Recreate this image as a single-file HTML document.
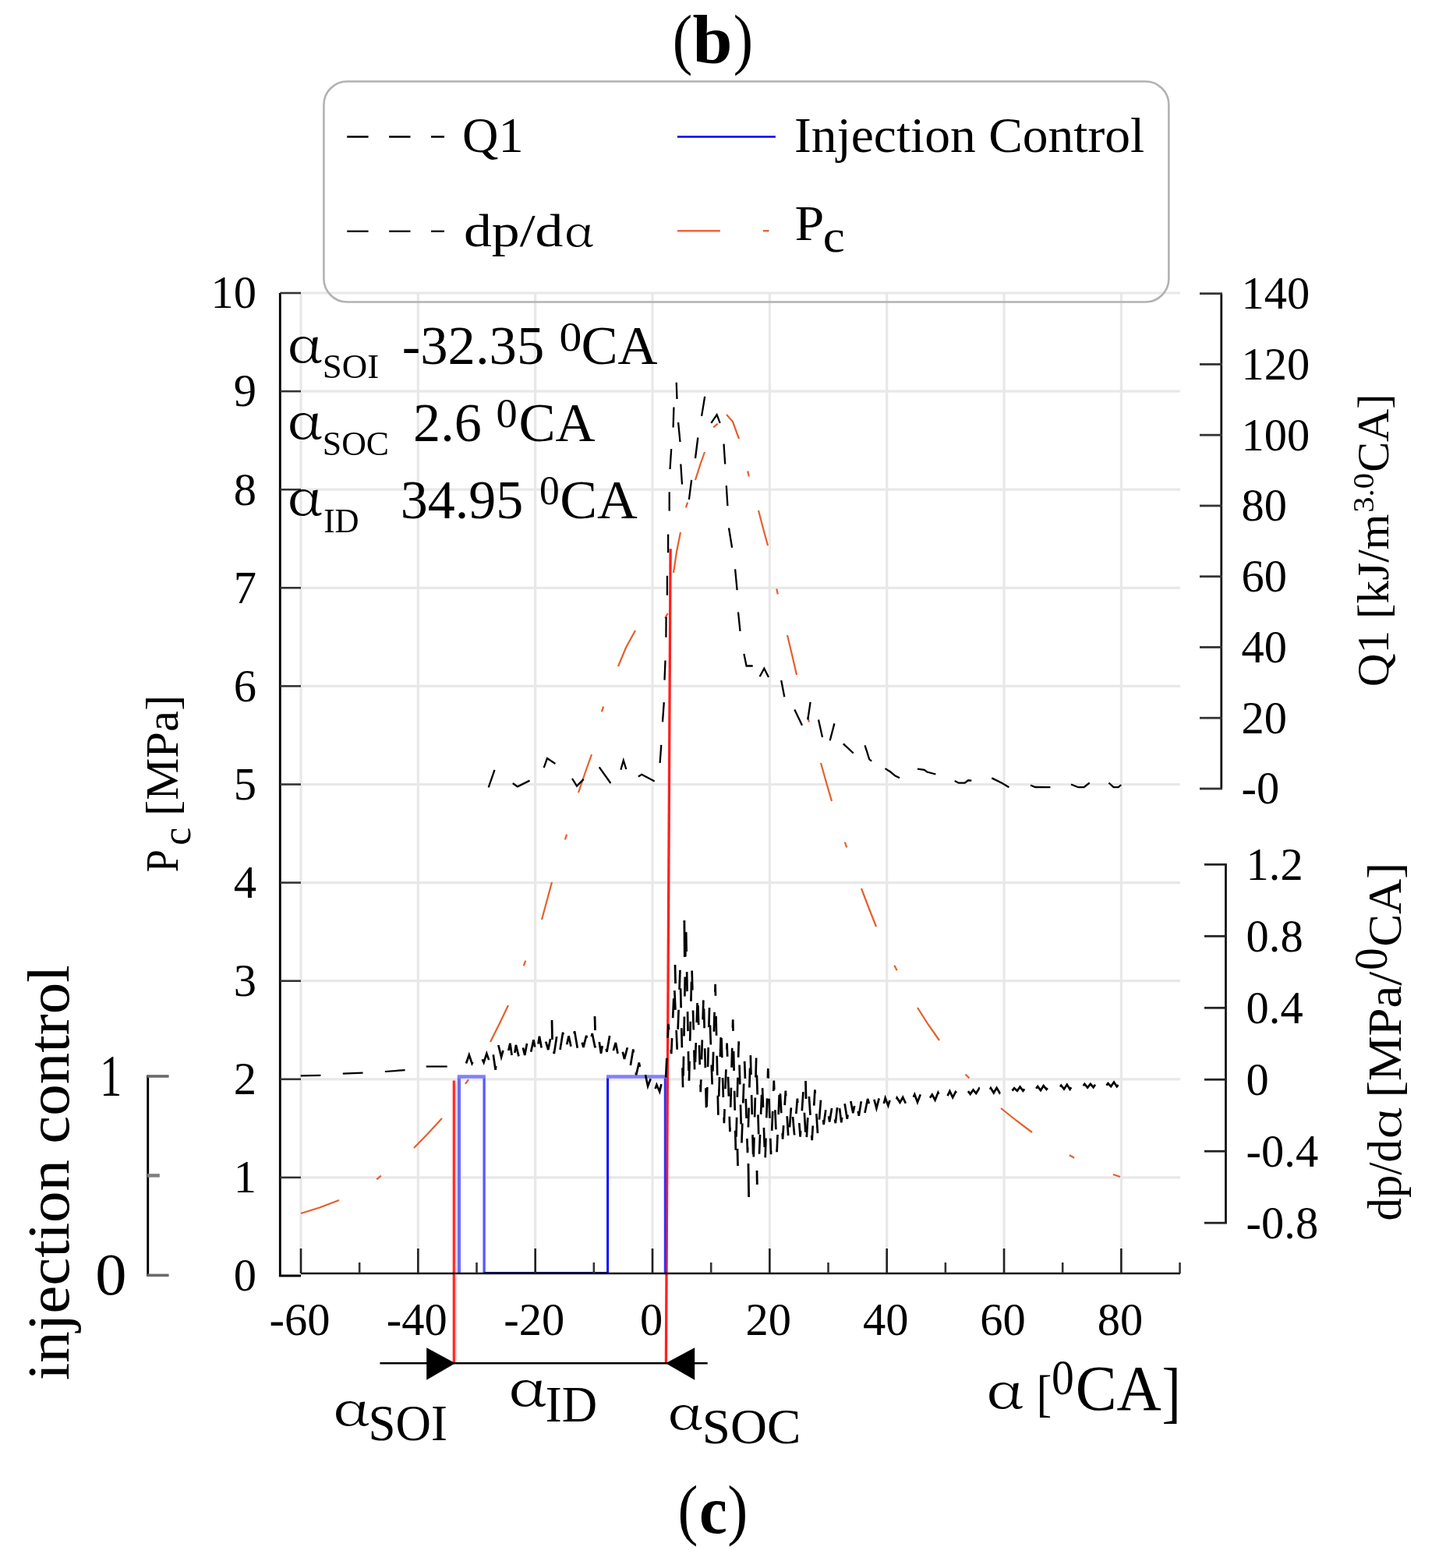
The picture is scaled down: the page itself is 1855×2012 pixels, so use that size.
<!DOCTYPE html>
<html><head><meta charset="utf-8"><title>Injection control chart</title>
<style>
html,body{margin:0;padding:0;background:#fff;}
body{width:1855px;height:2012px;overflow:hidden;}
svg{display:block;}
text{font-family:'Liberation Serif', 'DejaVu Serif', serif;}
</style></head><body>
<svg width="1855" height="2012" viewBox="0 0 1855 2012" font-family="'Liberation Serif', 'DejaVu Serif', serif">
<rect x="0" y="0" width="1855" height="2012" fill="#fff"/>
<line x1="386.00" y1="376.00" x2="386.00" y2="1634.00" stroke="#e8e8e8" stroke-width="3.20"/>
<line x1="536.34" y1="376.00" x2="536.34" y2="1634.00" stroke="#e8e8e8" stroke-width="3.20"/>
<line x1="686.68" y1="376.00" x2="686.68" y2="1634.00" stroke="#e8e8e8" stroke-width="3.20"/>
<line x1="837.02" y1="376.00" x2="837.02" y2="1634.00" stroke="#e8e8e8" stroke-width="3.20"/>
<line x1="987.36" y1="376.00" x2="987.36" y2="1634.00" stroke="#e8e8e8" stroke-width="3.20"/>
<line x1="1137.70" y1="376.00" x2="1137.70" y2="1634.00" stroke="#e8e8e8" stroke-width="3.20"/>
<line x1="1288.04" y1="376.00" x2="1288.04" y2="1634.00" stroke="#e8e8e8" stroke-width="3.20"/>
<line x1="1438.38" y1="376.00" x2="1438.38" y2="1634.00" stroke="#e8e8e8" stroke-width="3.20"/>
<line x1="386.00" y1="1510.90" x2="1514.00" y2="1510.90" stroke="#e8e8e8" stroke-width="3.20"/>
<line x1="386.00" y1="1384.80" x2="1514.00" y2="1384.80" stroke="#e8e8e8" stroke-width="3.20"/>
<line x1="386.00" y1="1258.70" x2="1514.00" y2="1258.70" stroke="#e8e8e8" stroke-width="3.20"/>
<line x1="386.00" y1="1132.60" x2="1514.00" y2="1132.60" stroke="#e8e8e8" stroke-width="3.20"/>
<line x1="386.00" y1="1006.50" x2="1514.00" y2="1006.50" stroke="#e8e8e8" stroke-width="3.20"/>
<line x1="386.00" y1="880.40" x2="1514.00" y2="880.40" stroke="#e8e8e8" stroke-width="3.20"/>
<line x1="386.00" y1="754.30" x2="1514.00" y2="754.30" stroke="#e8e8e8" stroke-width="3.20"/>
<line x1="386.00" y1="628.20" x2="1514.00" y2="628.20" stroke="#e8e8e8" stroke-width="3.20"/>
<line x1="386.00" y1="502.10" x2="1514.00" y2="502.10" stroke="#e8e8e8" stroke-width="3.20"/>
<line x1="386.00" y1="376.00" x2="1514.00" y2="376.00" stroke="#e8e8e8" stroke-width="3.20"/>
<line x1="582.3" y1="1386.5" x2="582.3" y2="1749.3" stroke="#ff2a2a" stroke-width="3.2"/>
<line x1="584.9" y1="1386.5" x2="584.9" y2="1749.3" stroke="#ffc4c4" stroke-width="1.6"/>
<line x1="860.1" y1="704.3" x2="854.4" y2="1749.3" stroke="#ff2020" stroke-width="3.3"/>
<line x1="588.9" y1="1381.5" x2="588.9" y2="1634.0" stroke="#6a6aff" stroke-width="4.2"/>
<line x1="621.1" y1="1381.5" x2="621.1" y2="1634.0" stroke="#5a5aff" stroke-width="3.4"/>
<line x1="779.6" y1="1381.5" x2="779.6" y2="1634.0" stroke="#0a0aff" stroke-width="3.0"/>
<line x1="853.3" y1="1381.5" x2="853.3" y2="1634.0" stroke="#3030ff" stroke-width="3.0"/>
<line x1="586.8" y1="1381.5" x2="622.8" y2="1381.5" stroke="#8080ff" stroke-width="4.6"/>
<line x1="778.1" y1="1381.5" x2="854.8" y2="1381.5" stroke="#8080ff" stroke-width="4.6"/>
<line x1="621.1" y1="1633.6" x2="779.6" y2="1633.6" stroke="#101080" stroke-width="3.0"/>
<g fill="none" stroke="#e4602c" stroke-width="2.2" stroke-linecap="butt">
<polyline points="386.0,1557.0 410.0,1549.5 435.0,1540.0"/>
<polyline points="531.0,1473.0 549.0,1454.5 567.0,1435.0"/>
<polyline points="629.0,1337.0 641.0,1313.0 652.0,1290.0"/>
<polyline points="695.0,1180.0 701.5,1156.0 708.0,1132.0"/>
<polyline points="742.0,1017.0 750.5,992.0 759.0,968.0"/>
<polyline points="793.0,855.0 803.0,831.0 815.0,809.0"/>
<polyline points="864.0,735.0 868.0,708.0 873.0,683.0"/>
<polyline points="892.0,616.0 898.0,597.0 904.0,580.0"/>
<polyline points="932.0,532.0 940.0,541.0 948.0,563.0"/>
<polyline points="973.0,655.0 979.0,678.0 985.0,700.0"/>
<polyline points="1010.0,815.0 1016.0,840.0 1022.0,866.0"/>
<polyline points="1053.0,979.0 1060.0,1004.0 1067.0,1028.0"/>
<polyline points="1105.0,1140.0 1114.5,1165.0 1124.0,1189.0"/>
<polyline points="1177.0,1293.0 1191.0,1315.0 1205.0,1335.0"/>
<polyline points="1284.0,1422.0 1304.0,1438.0 1324.0,1453.0"/>
<polyline points="1428.0,1507.0 1437.0,1510.0"/>
<line x1="483.2" y1="1513.3" x2="488.8" y2="1508.7"/>
<line x1="596.9" y1="1390.9" x2="601.1" y2="1385.1"/>
<line x1="671.7" y1="1239.3" x2="674.3" y2="1232.7"/>
<line x1="724.9" y1="1077.4" x2="727.1" y2="1070.6"/>
<line x1="771.9" y1="913.4" x2="774.1" y2="906.6"/>
<line x1="853.2" y1="793.1" x2="856.8" y2="786.9"/>
<line x1="879.9" y1="651.4" x2="882.1" y2="644.6"/>
<line x1="915.2" y1="548.3" x2="920.8" y2="543.7"/>
<line x1="959.1" y1="604.5" x2="960.9" y2="611.5"/>
<line x1="996.2" y1="755.5" x2="997.8" y2="762.5"/>
<line x1="1036.1" y1="919.5" x2="1037.9" y2="926.5"/>
<line x1="1083.8" y1="1080.6" x2="1086.2" y2="1087.4"/>
<line x1="1147.3" y1="1238.8" x2="1150.7" y2="1245.2"/>
<line x1="1238.5" y1="1378.5" x2="1243.5" y2="1383.5"/>
<line x1="1371.9" y1="1482.2" x2="1378.1" y2="1485.8"/>
</g>
<g fill="none" stroke="#000" stroke-width="2.3" stroke-linejoin="miter">
<polyline points="626.7,1010.3 634.5,987.8"/>
<polyline points="657.8,1005.0 663.9,1009.4 679.5,1001.6"/>
<polyline points="697.7,985.2 702.0,973.0 712.4,980.0"/>
<polyline points="734.0,999.0 740.0,1008.6 748.7,999.9"/>
<polyline points="768.7,984.3 783.4,1005.0"/>
<polyline points="796.4,987.8 799.8,975.7 803.3,987.0"/>
<polyline points="818.9,996.5 823.2,993.8 839.7,1002.5"/>
<polyline points="846.6,979.0 848.3,955.8"/>
<polyline points="850.0,926.3 851.8,901.2"/>
<polyline points="852.5,872.6 853.5,847.5"/>
<polyline points="854.4,817.7 854.6,791.7"/>
<polyline points="855.9,763.8 855.9,738.8"/>
<polyline points="857.1,709.2 857.1,685.6"/>
<polyline points="858.7,655.6 858.7,631.3"/>
<polyline points="859.5,602.0 861.2,576.0"/>
<polyline points="863.6,548.5 864.4,522.5"/>
<polyline points="867.7,490.8 868.5,512.0"/>
<polyline points="870.1,542.0 872.5,567.0"/>
<polyline points="873.3,595.5 875.0,621.5"/>
<polyline points="883.9,641.0 887.1,615.8"/>
<polyline points="892.0,588.2 895.3,561.5"/>
<polyline points="900.1,533.9 904.2,508.7"/>
<polyline points="912.3,542.8 919.6,532.2 923.7,542.8"/>
<polyline points="928.5,569.6 930.2,595.5"/>
<polyline points="931.8,623.1 933.4,649.1"/>
<polyline points="935.0,677.5 939.1,702.7"/>
<polyline points="943.1,730.3 945.6,757.1"/>
<polyline points="947.0,785.5 949.5,809.9"/>
<polyline points="954.4,839.0 957.6,854.5 965.7,854.5"/>
<polyline points="974.6,868.3 980.3,857.8 986.0,869.0"/>
<polyline points="1002.2,873.0 1006.3,894.3"/>
<polyline points="1019.3,910.5 1029.0,930.8"/>
<polyline points="1036.3,923.5 1039.6,900.8"/>
<polyline points="1050.0,923.5 1055.0,946.0"/>
<polyline points="1064.7,950.3 1070.4,928.4"/>
<polyline points="1081.8,954.4 1094.8,966.5"/>
<polyline points="1109.5,956.3 1112.6,965.8 1115.2,974.4 1118.2,976.6"/>
<polyline points="1135.5,986.1 1142.4,990.5 1148.5,995.6 1154.1,998.2"/>
<polyline points="1177.0,986.6 1185.7,987.9 1189.2,990.5 1200.4,993.5"/>
<polyline points="1224.7,1002.0 1229.9,1004.7 1237.7,1004.7 1242.0,1001.3 1246.3,1001.7"/>
<polyline points="1272.3,998.4 1285.7,1005.0 1294.4,1010.2"/>
<polyline points="1322.0,1007.5 1328.0,1010.0 1347.4,1010.2"/>
<polyline points="1374.0,1006.5 1383.3,1010.2 1390.5,1010.2 1397.7,1004.5"/>
<polyline points="1422.4,1004.5 1428.6,1010.2 1434.7,1010.2 1438.3,1007.0"/>
</g>
<g fill="none" stroke="#000" stroke-width="2.2">
<polyline points="385.7,1380.4 411.4,1379.9"/>
<polyline points="439.8,1377.7 465.5,1376.6"/>
<polyline points="493.9,1375.0 519.6,1373.1"/>
<polyline points="546.7,1368.5 573.7,1368.5"/>
<polyline points="598.0,1364.5 601.8,1353.7 605.5,1364.6 609.3,1357.0 613.0,1362.4 616.8,1355.0 620.6,1363.3 624.3,1352.0 628.1,1362.5 631.8,1346.4 635.6,1372.9 639.4,1341.2 643.1,1356.3 646.9,1342.6 650.6,1355.2 654.4,1338.7 658.2,1365.3 661.9,1340.9 665.7,1356.3 669.4,1338.1 673.2,1353.9 677.0,1333.6 680.7,1351.7 684.5,1334.3 688.2,1354.3 692.0,1329.7 695.8,1350.9 699.5,1334.3 703.3,1347.0 707.0,1328.3 710.8,1352.0 714.6,1327.4 718.3,1348.6 722.1,1324.8 725.8,1346.6 729.6,1329.3 733.4,1347.4 737.1,1323.2 740.9,1345.5 744.6,1329.3 748.4,1343.9 752.2,1328.9 755.9,1343.7 759.7,1326.0 763.4,1344.2 767.2,1326.8 771.0,1351.8 774.7,1331.1 778.5,1349.7 782.2,1328.6 786.0,1351.0 789.8,1337.9 793.5,1356.9 797.3,1343.2 801.0,1359.0 804.8,1344.4 808.6,1368.7 812.3,1346.4 816.1,1379.4 819.8,1363.5 823.6,1383.7 827.4,1376.4 831.1,1393.7 834.9,1383.7 838.6,1402.8 842.4,1391.9 846.2,1400.7 849.9,1384.3 853.7,1392.6 857.4,1314.0 861.2,1352.1 865.0,1263.1 868.7,1346.8 872.5,1243.5 876.2,1400.8 880.0,1186.3 883.8,1393.4 887.5,1239.6 891.3,1380.7 895.0,1275.6 898.8,1401.2 902.6,1275.8 906.3,1433.6 910.1,1291.3 913.8,1396.1 917.6,1262.8 921.4,1431.9 925.1,1318.6 928.9,1441.1 932.6,1338.5 936.4,1452.2 940.2,1308.3 943.9,1480.3 947.7,1336.2 951.4,1467.5 955.2,1361.8 959.0,1479.2 962.7,1349.3 966.5,1495.8 970.2,1355.5 974.0,1481.1 977.8,1387.5 981.5,1491.7 985.3,1371.1 989.0,1481.3 992.8,1386.6 996.6,1478.1 1000.3,1391.2 1004.1,1461.6 1007.8,1399.7 1011.6,1464.7 1015.4,1414.3 1019.1,1456.5 1022.9,1409.6 1026.6,1458.6 1030.4,1401.1 1034.2,1468.9 1037.9,1407.1 1041.7,1463.2 1045.4,1398.4 1049.2,1458.3 1053.0,1411.5 1056.7,1443.1 1060.5,1415.4 1064.2,1439.5 1068.0,1416.4 1071.8,1441.2 1075.5,1408.7 1079.3,1440.4 1083.0,1412.2 1086.8,1435.7 1090.6,1408.9 1094.3,1428.3 1098.1,1409.6 1101.8,1431.8 1105.6,1408.4 1109.4,1428.6 1113.1,1409.9 1116.9,1423.1 1120.6,1407.8 1124.4,1422.2 1128.2,1407.4 1131.9,1423.3 1135.7,1408.9 1139.4,1418.7 1143.2,1406.3 1147.0,1417.9 1150.7,1408.7 1154.5,1414.6 1158.2,1408.0 1162.0,1416.1 1165.8,1405.2 1169.5,1412.8 1173.3,1404.4 1177.0,1414.4 1180.8,1404.2 1184.6,1411.6 1188.3,1403.9 1192.1,1410.1 1195.8,1404.6 1199.6,1411.5 1203.4,1402.1 1207.1,1409.3 1210.9,1400.7 1214.6,1408.1 1218.4,1400.2 1222.2,1408.2 1225.9,1401.1 1229.7,1405.8 1233.4,1400.2 1237.2,1404.9 1241.0,1398.8 1244.7,1404.0 1248.5,1398.4 1252.2,1403.0 1256.0,1396.9 1259.8,1403.0 1263.5,1397.5 1267.3,1403.1 1271.0,1396.2 1274.8,1402.3 1278.6,1395.8 1282.3,1402.1 1286.1,1396.3 1289.8,1401.7 1293.6,1397.0 1297.4,1401.1 1301.1,1396.3 1304.9,1399.8 1308.6,1394.6 1312.4,1399.7 1316.2,1394.9 1319.9,1400.4 1323.7,1394.4 1327.4,1399.2 1331.2,1394.1 1335.0,1399.2 1338.7,1393.2 1342.5,1397.9 1346.2,1393.3 1350.0,1397.8 1353.8,1393.5 1357.5,1398.3 1361.3,1392.7 1365.0,1397.5 1368.8,1391.8 1372.6,1397.7 1376.3,1392.0 1380.1,1396.8 1383.8,1391.6 1387.6,1396.2 1391.4,1390.9 1395.1,1395.6 1398.9,1390.8 1402.6,1395.2 1406.4,1389.7 1410.2,1395.2 1413.9,1389.4 1417.7,1395.2 1421.4,1390.1 1425.2,1394.1 1429.0,1388.6 1432.7,1394.2 1436.5,1389.6" stroke-dasharray="25 26" stroke-width="2.7"/>
<polyline points="946.0,1474.0 946.5,1496.0" stroke-width="2.8"/>
<polyline points="960.0,1493.0 960.6,1536.0" stroke-width="2.8"/>
<polyline points="971.0,1502.0 971.3,1520.0" stroke-width="2.8"/>
<polyline points="877.9,1181.0 878.3,1228.0" stroke-width="2.8"/>
<polyline points="1033.5,1387.0 1034.0,1410.0" stroke-width="2.8"/>
<polyline points="866.0,1238.0 866.5,1262.0" stroke-width="2.8"/>
<polyline points="708.0,1309.0 708.5,1334.0" stroke-width="2.8"/>
<polyline points="763.0,1304.0 763.5,1322.0" stroke-width="2.8"/>
</g>
<polyline points="359.3,376 359.3,1637 386,1637" fill="none" stroke="#000" stroke-width="2.85"/>
<line x1="359.30" y1="1510.90" x2="386.00" y2="1510.90" stroke="#333" stroke-width="2.60"/>
<line x1="359.30" y1="1384.80" x2="386.00" y2="1384.80" stroke="#333" stroke-width="2.60"/>
<line x1="359.30" y1="1258.70" x2="386.00" y2="1258.70" stroke="#333" stroke-width="2.60"/>
<line x1="359.30" y1="1132.60" x2="386.00" y2="1132.60" stroke="#333" stroke-width="2.60"/>
<line x1="359.30" y1="1006.50" x2="386.00" y2="1006.50" stroke="#333" stroke-width="2.60"/>
<line x1="359.30" y1="880.40" x2="386.00" y2="880.40" stroke="#333" stroke-width="2.60"/>
<line x1="359.30" y1="754.30" x2="386.00" y2="754.30" stroke="#333" stroke-width="2.60"/>
<line x1="359.30" y1="628.20" x2="386.00" y2="628.20" stroke="#333" stroke-width="2.60"/>
<line x1="359.30" y1="502.10" x2="386.00" y2="502.10" stroke="#333" stroke-width="2.60"/>
<line x1="359.30" y1="376.00" x2="386.00" y2="376.00" stroke="#333" stroke-width="2.60"/>
<line x1="386.00" y1="1634.00" x2="1514.00" y2="1634.00" stroke="#111" stroke-width="2.60"/>
<line x1="386.00" y1="1602.00" x2="386.00" y2="1634.00" stroke="#222" stroke-width="2.60"/>
<line x1="461.17" y1="1620.00" x2="461.17" y2="1634.00" stroke="#333" stroke-width="2.60"/>
<line x1="536.34" y1="1602.00" x2="536.34" y2="1634.00" stroke="#222" stroke-width="2.60"/>
<line x1="611.51" y1="1620.00" x2="611.51" y2="1634.00" stroke="#333" stroke-width="2.60"/>
<line x1="686.68" y1="1602.00" x2="686.68" y2="1634.00" stroke="#222" stroke-width="2.60"/>
<line x1="761.85" y1="1620.00" x2="761.85" y2="1634.00" stroke="#333" stroke-width="2.60"/>
<line x1="837.02" y1="1602.00" x2="837.02" y2="1634.00" stroke="#222" stroke-width="2.60"/>
<line x1="912.19" y1="1620.00" x2="912.19" y2="1634.00" stroke="#333" stroke-width="2.60"/>
<line x1="987.36" y1="1602.00" x2="987.36" y2="1634.00" stroke="#222" stroke-width="2.60"/>
<line x1="1062.53" y1="1620.00" x2="1062.53" y2="1634.00" stroke="#333" stroke-width="2.60"/>
<line x1="1137.70" y1="1602.00" x2="1137.70" y2="1634.00" stroke="#222" stroke-width="2.60"/>
<line x1="1212.87" y1="1620.00" x2="1212.87" y2="1634.00" stroke="#333" stroke-width="2.60"/>
<line x1="1288.04" y1="1602.00" x2="1288.04" y2="1634.00" stroke="#222" stroke-width="2.60"/>
<line x1="1363.21" y1="1620.00" x2="1363.21" y2="1634.00" stroke="#333" stroke-width="2.60"/>
<line x1="1438.38" y1="1602.00" x2="1438.38" y2="1634.00" stroke="#222" stroke-width="2.60"/>
<line x1="1513.55" y1="1620.00" x2="1513.55" y2="1634.00" stroke="#333" stroke-width="2.60"/>
<line x1="1566.80" y1="376.70" x2="1566.80" y2="1012.20" stroke="#111" stroke-width="2.80"/>
<line x1="1539.00" y1="376.70" x2="1568.00" y2="376.70" stroke="#333" stroke-width="2.80"/>
<line x1="1539.00" y1="467.46" x2="1568.00" y2="467.46" stroke="#333" stroke-width="2.80"/>
<line x1="1539.00" y1="558.21" x2="1568.00" y2="558.21" stroke="#333" stroke-width="2.80"/>
<line x1="1539.00" y1="648.97" x2="1568.00" y2="648.97" stroke="#333" stroke-width="2.80"/>
<line x1="1539.00" y1="739.73" x2="1568.00" y2="739.73" stroke="#333" stroke-width="2.80"/>
<line x1="1539.00" y1="830.49" x2="1568.00" y2="830.49" stroke="#333" stroke-width="2.80"/>
<line x1="1539.00" y1="921.24" x2="1568.00" y2="921.24" stroke="#333" stroke-width="2.80"/>
<line x1="1539.00" y1="1012.00" x2="1568.00" y2="1012.00" stroke="#333" stroke-width="2.80"/>
<line x1="1572.50" y1="1109.30" x2="1572.50" y2="1569.40" stroke="#111" stroke-width="2.80"/>
<line x1="1545.00" y1="1109.30" x2="1573.90" y2="1109.30" stroke="#222" stroke-width="2.80"/>
<line x1="1545.00" y1="1201.28" x2="1573.90" y2="1201.28" stroke="#222" stroke-width="2.80"/>
<line x1="1545.00" y1="1293.26" x2="1573.90" y2="1293.26" stroke="#222" stroke-width="2.80"/>
<line x1="1545.00" y1="1385.24" x2="1573.90" y2="1385.24" stroke="#222" stroke-width="2.80"/>
<line x1="1545.00" y1="1477.22" x2="1573.90" y2="1477.22" stroke="#222" stroke-width="2.80"/>
<line x1="1545.00" y1="1569.20" x2="1573.90" y2="1569.20" stroke="#222" stroke-width="2.80"/>
<line x1="189.70" y1="1379.60" x2="189.70" y2="1637.80" stroke="#000" stroke-width="2.90"/>
<line x1="189.00" y1="1381.00" x2="216.60" y2="1381.00" stroke="#6a6a6a" stroke-width="3.60"/>
<line x1="189.00" y1="1636.40" x2="216.60" y2="1636.40" stroke="#6a6a6a" stroke-width="3.60"/>
<line x1="189.00" y1="1508.40" x2="204.80" y2="1508.40" stroke="#808080" stroke-width="4.50"/>
<text x="329" y="1656.30" font-size="58.5" text-anchor="end">0</text>
<text x="329" y="1530.20" font-size="58.5" text-anchor="end">1</text>
<text x="329" y="1404.10" font-size="58.5" text-anchor="end">2</text>
<text x="329" y="1278.00" font-size="58.5" text-anchor="end">3</text>
<text x="329" y="1151.90" font-size="58.5" text-anchor="end">4</text>
<text x="329" y="1025.80" font-size="58.5" text-anchor="end">5</text>
<text x="329" y="899.70" font-size="58.5" text-anchor="end">6</text>
<text x="329" y="773.60" font-size="58.5" text-anchor="end">7</text>
<text x="329" y="647.50" font-size="58.5" text-anchor="end">8</text>
<text x="329" y="521.40" font-size="58.5" text-anchor="end">9</text>
<text x="329" y="395.30" font-size="58.5" text-anchor="end">10</text>
<text x="384.50" y="1713" font-size="58.5" text-anchor="middle">-60</text>
<text x="534.84" y="1713" font-size="58.5" text-anchor="middle">-40</text>
<text x="685.18" y="1713" font-size="58.5" text-anchor="middle">-20</text>
<text x="835.52" y="1713" font-size="58.5" text-anchor="middle">0</text>
<text x="985.86" y="1713" font-size="58.5" text-anchor="middle">20</text>
<text x="1136.20" y="1713" font-size="58.5" text-anchor="middle">40</text>
<text x="1286.54" y="1713" font-size="58.5" text-anchor="middle">60</text>
<text x="1436.88" y="1713" font-size="58.5" text-anchor="middle">80</text>
<text x="1592.5" y="396.00" font-size="58.5">140</text>
<text x="1592.5" y="486.76" font-size="58.5">120</text>
<text x="1592.5" y="577.51" font-size="58.5">100</text>
<text x="1592.5" y="668.27" font-size="58.5">80</text>
<text x="1592.5" y="759.03" font-size="58.5">60</text>
<text x="1592.5" y="849.79" font-size="58.5">40</text>
<text x="1592.5" y="940.54" font-size="58.5">20</text>
<text x="1592.5" y="1031.30" font-size="58.5">-0</text>
<text x="1598.6" y="1128.60" font-size="58.5">1.2</text>
<text x="1598.6" y="1220.58" font-size="58.5">0.8</text>
<text x="1598.6" y="1312.56" font-size="58.5">0.4</text>
<text x="1598.6" y="1404.54" font-size="58.5">0</text>
<text x="1598.6" y="1496.52" font-size="58.5">-0.4</text>
<text x="1598.6" y="1588.50" font-size="58.5">-0.8</text>
<text x="128.01" y="1405.50" font-size="76.00" textLength="28.40" lengthAdjust="spacingAndGlyphs" fill="#000">1</text>
<text x="122.24" y="1660.50" font-size="76.00" textLength="40.23" lengthAdjust="spacingAndGlyphs" fill="#000">0</text>
<text transform="translate(88.20 1769.50) rotate(-90)" x="-1.70" y="0" font-size="76.00" textLength="532.82" lengthAdjust="spacingAndGlyphs">injection control</text>
<text transform="translate(227.90 1117.80) rotate(-90)" x="-1.51" y="0" font-size="59.50" textLength="29.10" lengthAdjust="spacingAndGlyphs">P</text>
<text transform="translate(243.80 1082.80) rotate(-90)" x="-1.98" y="0" font-size="52.00" textLength="23.08" lengthAdjust="spacingAndGlyphs">c</text>
<text transform="translate(227.90 1042.40) rotate(-90)" x="-4.51" y="0" font-size="59.50" textLength="155.11" lengthAdjust="spacingAndGlyphs">[MPa]</text>
<text transform="translate(1780.50 878.80) rotate(-90)" x="-2.43" y="0" font-size="57.00" textLength="221.85" lengthAdjust="spacingAndGlyphs">Q1 [kJ/m</text>
<text transform="translate(1762.00 655.80) rotate(-90)" x="-1.94" y="0" font-size="37.00" textLength="50.68" lengthAdjust="spacingAndGlyphs">3.0</text>
<text transform="translate(1780.50 603.40) rotate(-90)" x="-2.39" y="0" font-size="57.00" textLength="100.42" lengthAdjust="spacingAndGlyphs">CA]</text>
<text transform="translate(1796.60 1564.30) rotate(-90)" x="-2.12" y="0" font-size="61.00" textLength="104.34" lengthAdjust="spacingAndGlyphs">dp/d</text>
<text transform="translate(1796.71 1458.30) rotate(-90)" x="-3.11" y="0" font-size="52.75" style="font-family:'Noto Serif CJK SC', 'Liberation Serif', serif" textLength="41.32" lengthAdjust="spacingAndGlyphs">α</text>
<text transform="translate(1796.60 1403.80) rotate(-90)" x="-4.81" y="0" font-size="61.00" textLength="161.91" lengthAdjust="spacingAndGlyphs">[MPa/</text>
<text transform="translate(1779.00 1242.70) rotate(-90)" x="-2.19" y="0" font-size="61.00" textLength="28.79" lengthAdjust="spacingAndGlyphs">0</text>
<text transform="translate(1796.60 1212.30) rotate(-90)" x="-2.57" y="0" font-size="61.00" textLength="108.03" lengthAdjust="spacingAndGlyphs">CA]</text>
<text x="1265.57" y="1807.08" font-size="61.17" style="font-family:'Noto Serif CJK SC', 'Liberation Serif', serif" textLength="48.29" lengthAdjust="spacingAndGlyphs">α</text>
<text x="1329.67" y="1810.00" font-size="64.60" textLength="19.44" lengthAdjust="spacingAndGlyphs" fill="#000">[</text>
<text x="1349.01" y="1788.80" font-size="62.70" textLength="28.79" lengthAdjust="spacingAndGlyphs" fill="#000">0</text>
<text x="1379.65" y="1808.50" font-size="82.00" textLength="110.13" lengthAdjust="spacingAndGlyphs" fill="#000">CA</text>
<text x="1490.55" y="1815.00" font-size="87.00" textLength="24.38" lengthAdjust="spacingAndGlyphs" fill="#000">]</text>
<text x="368.77" y="465.37" font-size="61.90" style="font-family:'Noto Serif CJK SC', 'Liberation Serif', serif" textLength="45.59" lengthAdjust="spacingAndGlyphs">α</text>
<text x="413.80" y="485.20" font-size="43.40" textLength="72.28" lengthAdjust="spacingAndGlyphs" fill="#000">SOI</text>
<text x="515.68" y="467.20" font-size="70.00" textLength="182.58" lengthAdjust="spacingAndGlyphs" fill="#000">-32.35</text>
<text x="717.61" y="449.50" font-size="52.00" textLength="28.79" lengthAdjust="spacingAndGlyphs" fill="#000">0</text>
<text x="745.40" y="467.20" font-size="70.00" textLength="98.11" lengthAdjust="spacingAndGlyphs" fill="#000">CA</text>
<text x="368.77" y="562.77" font-size="61.90" style="font-family:'Noto Serif CJK SC', 'Liberation Serif', serif" textLength="45.59" lengthAdjust="spacingAndGlyphs">α</text>
<text x="413.87" y="584.00" font-size="43.40" textLength="85.14" lengthAdjust="spacingAndGlyphs" fill="#000">SOC</text>
<text x="530.12" y="566.20" font-size="70.00" textLength="87.67" lengthAdjust="spacingAndGlyphs" fill="#000">2.6</text>
<text x="636.63" y="547.50" font-size="52.00" textLength="27.13" lengthAdjust="spacingAndGlyphs" fill="#000">0</text>
<text x="665.50" y="566.20" font-size="70.00" textLength="98.11" lengthAdjust="spacingAndGlyphs" fill="#000">CA</text>
<text x="368.77" y="661.47" font-size="61.90" style="font-family:'Noto Serif CJK SC', 'Liberation Serif', serif" textLength="45.59" lengthAdjust="spacingAndGlyphs">α</text>
<text x="415.25" y="682.70" font-size="43.40" textLength="45.27" lengthAdjust="spacingAndGlyphs" fill="#000">ID</text>
<text x="513.65" y="665.00" font-size="70.00" textLength="157.48" lengthAdjust="spacingAndGlyphs" fill="#000">34.95</text>
<text x="692.04" y="647.00" font-size="52.00" textLength="25.72" lengthAdjust="spacingAndGlyphs" fill="#000">0</text>
<text x="718.26" y="665.00" font-size="70.00" textLength="99.56" lengthAdjust="spacingAndGlyphs" fill="#000">CA</text>
<text x="427.43" y="1828.63" font-size="58.06" style="font-family:'Noto Serif CJK SC', 'Liberation Serif', serif" textLength="47.50" lengthAdjust="spacingAndGlyphs">α</text>
<text x="472.59" y="1848.10" font-size="65.00" textLength="101.42" lengthAdjust="spacingAndGlyphs" fill="#000">SOI</text>
<text x="652.49" y="1803.96" font-size="62.64" style="font-family:'Noto Serif CJK SC', 'Liberation Serif', serif" textLength="49.41" lengthAdjust="spacingAndGlyphs">α</text>
<text x="699.73" y="1823.50" font-size="65.00" textLength="66.29" lengthAdjust="spacingAndGlyphs" fill="#000">ID</text>
<text x="856.78" y="1833.93" font-size="58.24" style="font-family:'Noto Serif CJK SC', 'Liberation Serif', serif" textLength="45.48" lengthAdjust="spacingAndGlyphs">α</text>
<text x="900.85" y="1852.40" font-size="64.00" textLength="126.54" lengthAdjust="spacingAndGlyphs" fill="#000">SOC</text>
<line x1="487.40" y1="1749.30" x2="907.70" y2="1749.30" stroke="#000" stroke-width="2.60"/>
<polygon points="584.1,1749.3 547.2,1729.2 547.2,1770.7" fill="#000"/>
<polygon points="853.9,1749.3 891.2,1729.2 891.2,1770.7" fill="#000"/>
<rect x="415.4" y="104.5" width="1084" height="283" rx="30" ry="30" fill="none" stroke="#b2b2b2" stroke-width="2.6"/>
<line x1="445.20" y1="175.50" x2="570.00" y2="175.50" stroke="#000" stroke-width="2.40" stroke-dasharray="27.4 26.5"/>
<line x1="445.20" y1="296.70" x2="570.00" y2="296.70" stroke="#222" stroke-width="2.40" stroke-dasharray="27.4 26.5"/>
<line x1="868.90" y1="175.50" x2="994.90" y2="175.50" stroke="#0000ff" stroke-width="2.60"/>
<line x1="868.90" y1="296.30" x2="987.00" y2="296.30" stroke="#f0643c" stroke-width="2.60" stroke-dasharray="55 55 7.6 55"/>
<text x="593.07" y="195.30" font-size="64.00" textLength="78.49" lengthAdjust="spacingAndGlyphs" fill="#000">Q1</text>
<text x="595.01" y="315.60" font-size="60.00" textLength="127.47" lengthAdjust="spacingAndGlyphs" fill="#000">dp/d</text>
<text x="724.35" y="315.73" font-size="51.28" style="font-family:'Noto Serif CJK SC', 'Liberation Serif', serif" textLength="37.96" lengthAdjust="spacingAndGlyphs">α</text>
<text x="1019.03" y="195.30" font-size="64.00" textLength="449.28" lengthAdjust="spacingAndGlyphs" fill="#000">Injection Control</text>
<text x="1019.44" y="308.00" font-size="64.00" textLength="37.78" lengthAdjust="spacingAndGlyphs" fill="#000">P</text>
<text x="1055.89" y="322.60" font-size="59.00" textLength="28.05" lengthAdjust="spacingAndGlyphs" fill="#000">c</text>
<text x="862.73" y="79.46" font-size="85.69" textLength="25.54" lengthAdjust="spacingAndGlyphs" fill="#000">(</text>
<text x="888.43" y="80.50" font-size="88.80" font-weight="bold" textLength="51.09" lengthAdjust="spacingAndGlyphs" fill="#000">b</text>
<text x="940.75" y="79.46" font-size="85.69" textLength="25.28" lengthAdjust="spacingAndGlyphs" fill="#000">)</text>
<text x="869.58" y="1966.26" font-size="85.69" textLength="25.93" lengthAdjust="spacingAndGlyphs" fill="#000">(</text>
<text x="897.04" y="1967.20" font-size="87.00" font-weight="bold" textLength="35.88" lengthAdjust="spacingAndGlyphs" fill="#000">c</text>
<text x="933.28" y="1966.26" font-size="85.69" textLength="26.06" lengthAdjust="spacingAndGlyphs" fill="#000">)</text>
</svg>
</body></html>
